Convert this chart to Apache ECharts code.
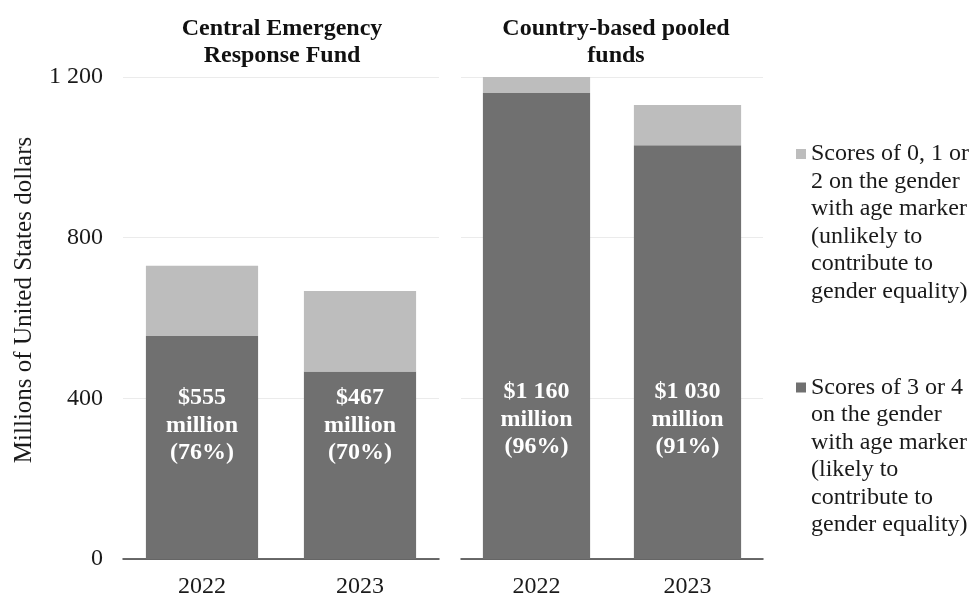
<!DOCTYPE html>
<html>
<head>
<meta charset="utf-8">
<script src="https://cdn.jsdelivr.net/npm/echarts@6/dist/echarts.min.js"></script>
<style>
  html, body { margin: 0; padding: 0; background: #fff; }
  #chart { width: 979px; height: 599px; }
</style>
</head>
<body>
<div id="chart"></div>
<script>
// data
const years = ['2022', '2023']
const panelTitles = ['Central Emergency\nResponse Fund', 'Country-based pooled\nfunds']
const seriesNames = [
  'Scores of 0, 1 or\n2 on the gender\nwith age marker\n(unlikely to\ncontribute to\ngender equality)',
  'Scores of 3 or 4\non the gender\nwith age marker\n(likely to\ncontribute to\ngender equality)'
]
const cerfLikely = [555, 467]
const cerfUnlikely = [175, 200]
const cerfPct = [76, 70]
const cbpfLikely = [1160, 1030]
const cbpfUnlikely = [48, 100]
const cbpfPct = [96, 91]

const FONT = 'Liberation Serif'
const DARK = '#707070'
const LIGHT = '#bdbdbd'
const FS = 24

const fmt = v => String(v).replace(/\B(?=(\d{3})+(?!\d))/g, ' ')

const chart = echarts.init(document.getElementById('chart'))

const grids = [
  { left: 123, right: 540, top: 77, bottom: 39 },
  { left: 461, right: 216, top: 77, bottom: 39 }
]

function xAxis(i) {
  return {
    type: 'category',
    gridIndex: i,
    data: years,
    axisTick: { show: false },
    axisLine: { lineStyle: { color: '#3a3a3a', width: 1.5 } },
    axisLabel: { fontFamily: FONT, fontSize: FS, color: '#1a1a1a', margin: 16 }
  }
}

function yAxis(i) {
  return {
    type: 'value',
    gridIndex: i,
    min: 0,
    max: 1200,
    interval: 400,
    name: i === 0 ? 'Millions of United States dollars' : '',
    nameLocation: 'middle',
    nameGap: 86,
    nameTextStyle: { fontFamily: FONT, fontSize: 25, color: '#1a1a1a', padding: [0, 0, 0, 36] },
    axisLine: { show: false },
    axisTick: { show: false },
    splitLine: { lineStyle: { color: '#ebebeb', width: 1 } },
    axisLabel: {
      show: i === 0,
      fontFamily: FONT,
      fontSize: FS,
      color: '#1a1a1a',
      margin: 20,
      formatter: v => fmt(v)
    }
  }
}

function likelySeries(i, vals, pct, dist) {
  return {
    name: seriesNames[1],
    type: 'bar',
    stack: 'p' + i,
    xAxisIndex: i,
    yAxisIndex: i,
    barWidth: '71%',
    itemStyle: { color: DARK },
    label: {
      show: true,
      position: 'insideBottom',
      distance: dist,
      fontFamily: FONT,
      fontSize: FS,
      fontWeight: 'bold',
      lineHeight: 27.5,
      color: '#fff',
      formatter: p => '$' + fmt(vals[p.dataIndex]) + '\nmillion\n(' + pct[p.dataIndex] + '%)'
    },
    data: vals
  }
}

function unlikelySeries(i, vals) {
  return {
    name: seriesNames[0],
    type: 'bar',
    stack: 'p' + i,
    xAxisIndex: i,
    yAxisIndex: i,
    barWidth: '71%',
    itemStyle: { color: LIGHT },
    data: vals
  }
}

function legend(name, color, iconY) {
  // five blank lines ahead of the text so the marker sits beside the first line
  return {
    data: [{ name: name, itemStyle: { color: color } }],
    orient: 'vertical',
    left: 796,
    top: iconY - 151.25,
    padding: 0,
    icon: 'rect',
    itemWidth: 10,
    itemHeight: 10,
    selectedMode: false,
    formatter: n => '\n\n\n\n\n' + n,
    textStyle: {
      fontFamily: FONT,
      fontSize: FS,
      color: '#1a1a1a',
      lineHeight: 27.5
    }
  }
}

const option = {
  animation: false,
  backgroundColor: '#fff',
  title: panelTitles.map((t, i) => ({
    text: t,
    left: i === 0 ? 282 : 616,
    top: 15,
    textAlign: 'center',
    padding: 0,
    textStyle: { fontFamily: FONT, fontSize: FS, fontWeight: 'bold', color: '#111', lineHeight: 27.5 }
  })),
  legend: [
    legend(seriesNames[0], LIGHT, 154),
    legend(seriesNames[1], DARK, 387.5)
  ],
  grid: grids,
  xAxis: [xAxis(0), xAxis(1)],
  yAxis: [yAxis(0), yAxis(1)],
  series: [
    likelySeries(0, cerfLikely, cerfPct, 92),
    unlikelySeries(0, cerfUnlikely),
    likelySeries(1, cbpfLikely, cbpfPct, 98),
    unlikelySeries(1, cbpfUnlikely)
  ]
}

chart.setOption(option)
</script>
</body>
</html>
